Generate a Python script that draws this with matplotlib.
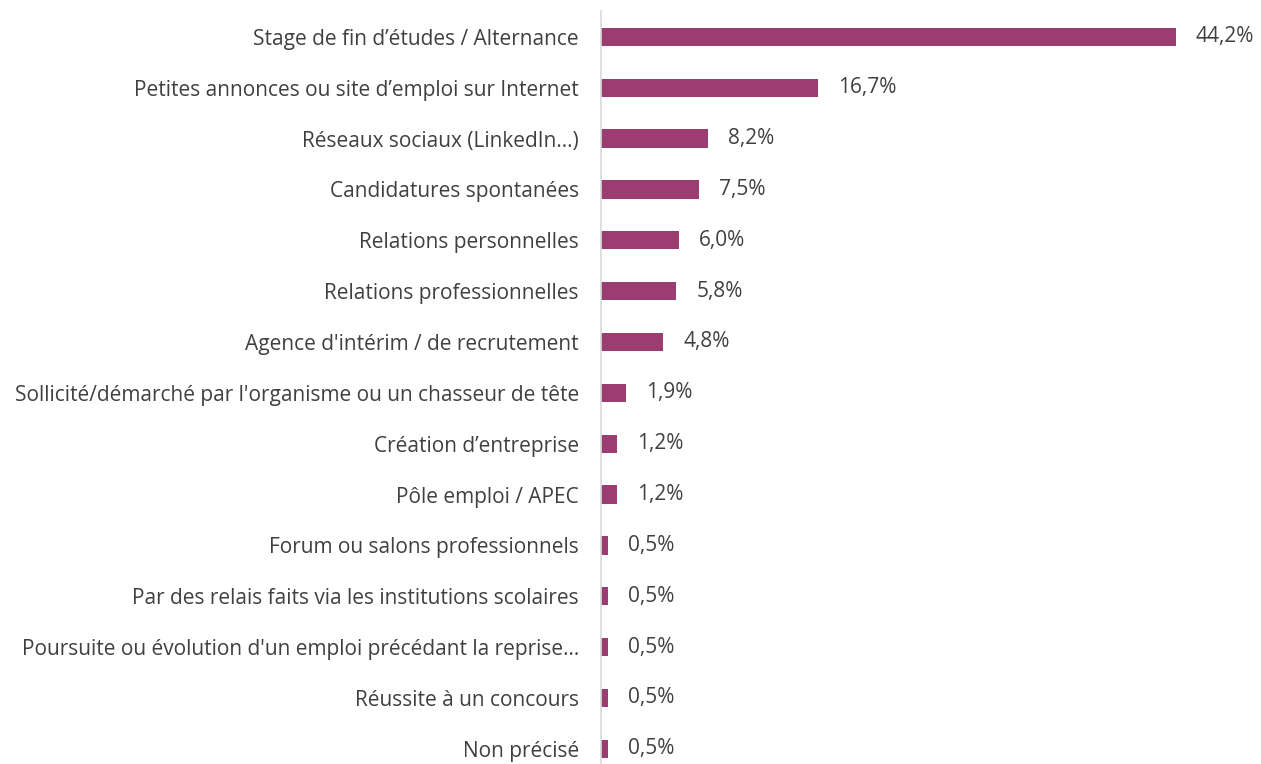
import matplotlib
matplotlib.use('Agg')
import matplotlib.pyplot as plt

# Data
categories = [
    "Stage de fin d\u2019études / Alternance",
    "Petites annonces ou site d\u2019emploi sur Internet",
    "Réseaux sociaux (LinkedIn...)",
    "Candidatures spontanées",
    "Relations personnelles",
    "Relations professionnelles",
    "Agence d'intérim / de recrutement",
    "Sollicité/démarché par l'organisme ou un chasseur de tête",
    "Création d\u2019entreprise",
    "Pôle emploi / APEC",
    "Forum ou salons professionnels",
    "Par des relais faits via les institutions scolaires",
    "Poursuite ou évolution d'un emploi précédant la reprise\u2026",
    "Réussite à un concours",
    "Non précisé",
]
values = [44.2, 16.7, 8.2, 7.5, 6.0, 5.8, 4.8, 1.9, 1.2, 1.2, 0.5, 0.5, 0.5, 0.5, 0.5]

plt.rcParams['font.family'] = ['Open Sans', 'DejaVu Sans']
text_color = '#404040'
bar_color = '#9B3D70'
fs = 15.0

fig = plt.figure(figsize=(12.61, 7.64), dpi=100)
ax = fig.add_axes([601 / 1261, 0, 660 / 1261, 753 / 764])

pos = list(range(len(categories)))
ax.barh(pos, values, height=0.36, color=bar_color)
ax.set_ylim(14.3, -0.51)
ax.set_xlim(0, 660 / 13.0)

for y, v in zip(pos, values):
    ax.annotate(f"{v:.1f}%".replace('.', ','), (v, y), xytext=(14.5, 0),
                textcoords='offset points', va='center', ha='left',
                fontsize=fs, color=text_color)

ax.set_yticks(pos)
ax.set_yticklabels(categories, fontsize=fs, color=text_color)
ax.tick_params(axis='y', length=0, pad=16)
ax.set_xticks([])
for s in ['top', 'right', 'bottom']:
    ax.spines[s].set_visible(False)
ax.spines['left'].set_color('#D9D9D9')
ax.spines['left'].set_linewidth(1.2)

fig.savefig('out.png', dpi=100)
